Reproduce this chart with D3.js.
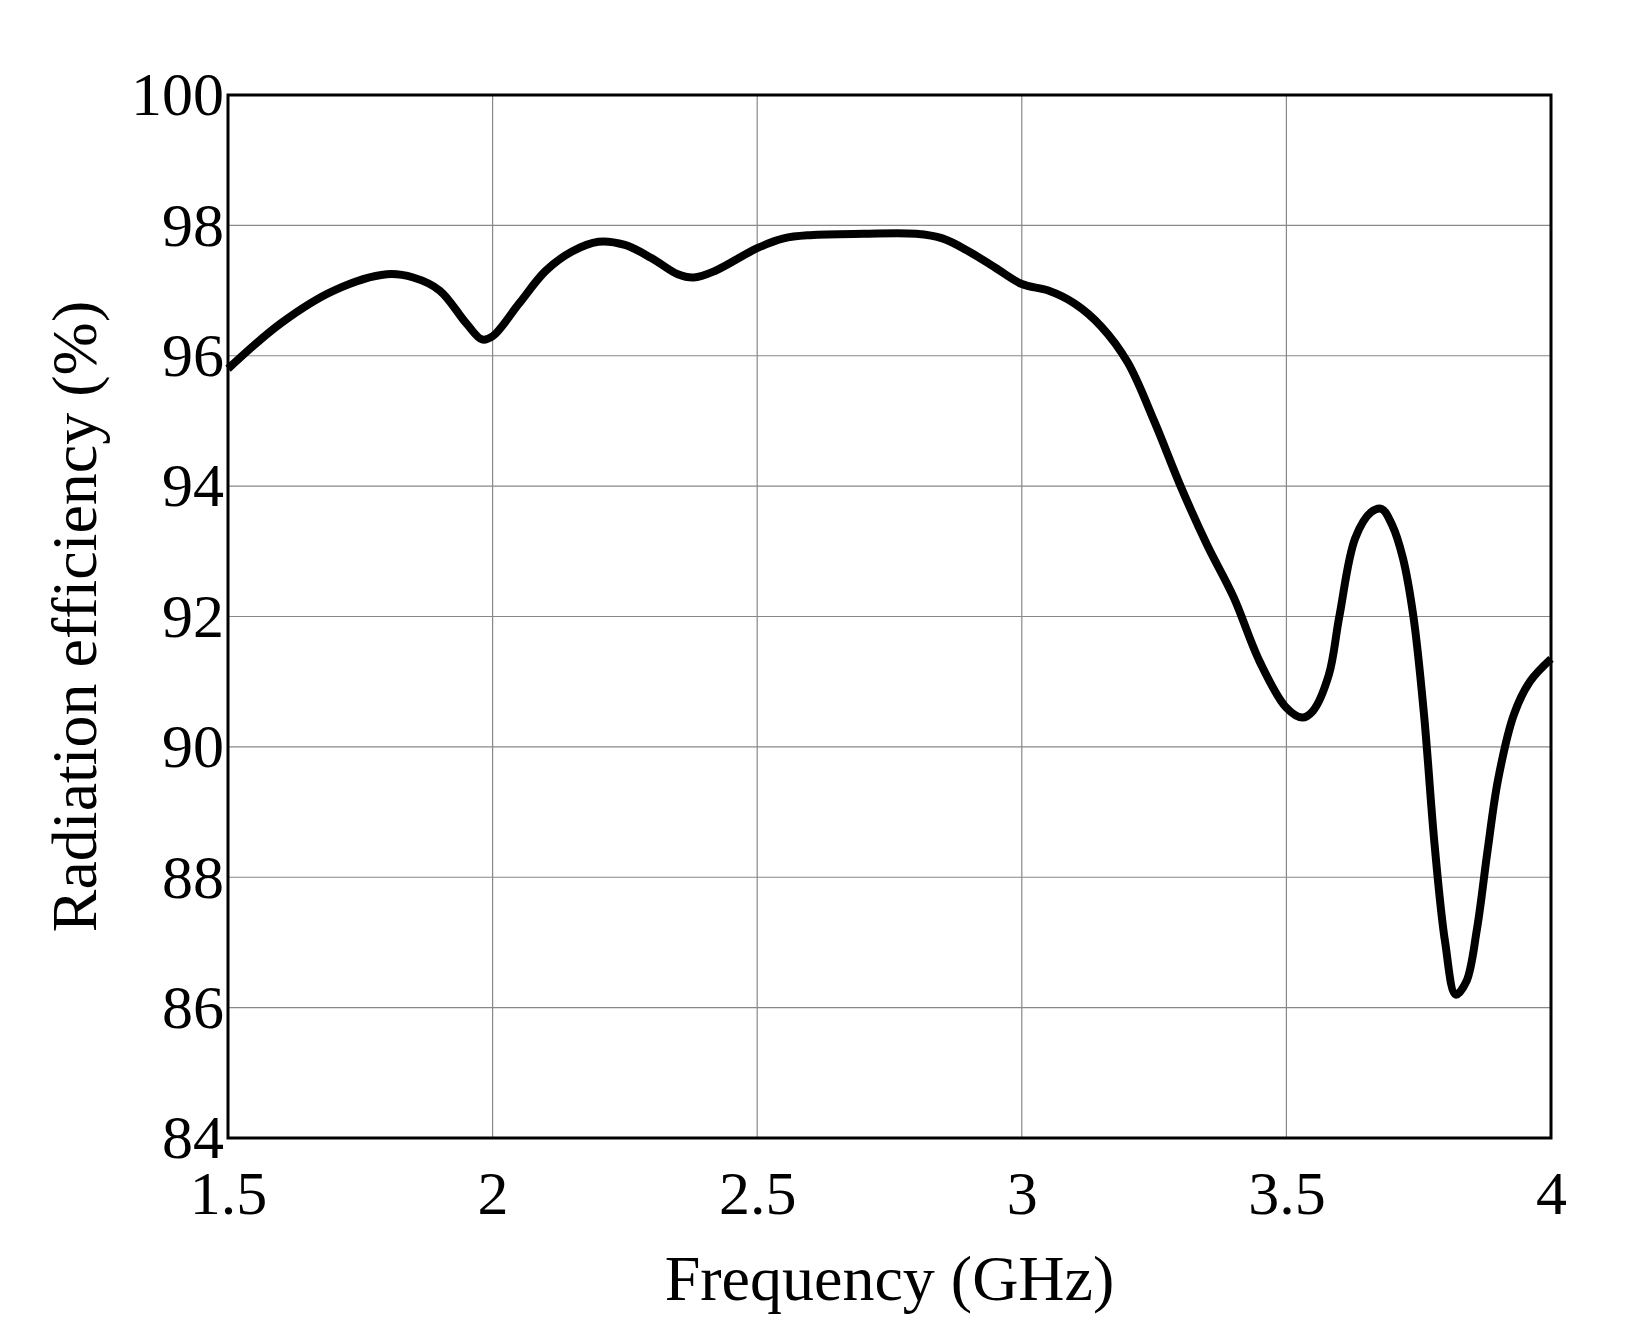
<!DOCTYPE html><html><head><meta charset="utf-8">
<script src="https://cdn.jsdelivr.net/npm/d3@7"></script>
<style>body{margin:0;background:#fff}</style></head><body>
<svg id="c" width="1628" height="1336"></svg>
<script>
const freq=[1.5,1.6,1.7,1.8,1.85,1.9,1.95,1.98,2.0,2.05,2.1,2.15,2.2,2.25,2.3,2.35,2.38,2.42,2.5,2.55,2.6,2.7,2.8,2.85,2.9,2.95,3.0,3.05,3.1,3.15,3.2,3.25,3.3,3.35,3.4,3.45,3.5,3.53,3.55,3.58,3.6,3.63,3.66,3.68,3.7,3.72,3.74,3.76,3.78,3.8,3.82,3.84,3.86,3.88,3.9,3.93,3.96,4.0];
const eff=[95.8,96.5,97.0,97.25,97.2,97.0,96.5,96.25,96.3,96.8,97.3,97.6,97.75,97.7,97.5,97.25,97.2,97.3,97.65,97.8,97.85,97.87,97.87,97.8,97.6,97.35,97.1,97.0,96.8,96.45,95.9,95.0,94.0,93.1,92.3,91.3,90.6,90.45,90.55,91.1,92.0,93.2,93.6,93.65,93.4,92.9,92.0,90.5,88.5,87.0,86.2,86.4,87.2,88.4,89.5,90.5,91.0,91.35];
const xTicks=[1.5,2,2.5,3,3.5,4];
const yTicks=[84,86,88,90,92,94,96,98,100];
const L=228,T=95,R=1551,B=1138;
const svg=d3.select("#c");
const x=d3.scaleLinear().domain([1.5,4]).range([L,R]);
const y=d3.scaleLinear().domain([84,100]).range([B,T]);
const font="'Liberation Serif','Times New Roman',serif";
const g=svg.append("g");
g.selectAll(".vx").data(xTicks.slice(1,-1)).join("line").attr("x1",d=>x(d)).attr("x2",d=>x(d)).attr("y1",T).attr("y2",B).attr("stroke","#888").attr("stroke-width",1.2);
g.selectAll(".hy").data(yTicks.slice(1,-1)).join("line").attr("y1",d=>y(d)).attr("y2",d=>y(d)).attr("x1",L).attr("x2",R).attr("stroke","#888").attr("stroke-width",1.2);
const xa=svg.append("g").attr("transform",`translate(0,${B})`).call(d3.axisBottom(x).tickValues(xTicks).tickFormat(d3.format("")).tickSize(0).tickPadding(32));
const ya=svg.append("g").attr("transform",`translate(${L},0)`).call(d3.axisLeft(y).tickValues(yTicks).tickSize(0).tickPadding(4));
[xa,ya].forEach(a=>{a.select(".domain").remove();a.selectAll("text").attr("font-family",font).attr("font-size",62).attr("fill","#000");});
xa.selectAll("text").attr("dy","0.71em");
svg.append("rect").attr("x",L).attr("y",T).attr("width",R-L).attr("height",B-T).attr("fill","none").attr("stroke","#000").attr("stroke-width",3);
const line=d3.line().x((d,i)=>x(freq[i])).y(d=>y(d)).curve(d3.curveCatmullRom);
svg.append("path").attr("d",line(eff)).attr("fill","none").attr("stroke","#000").attr("stroke-width",8).attr("stroke-linejoin","round");
svg.append("text").attr("x",(L+R)/2).attr("y",1300).attr("text-anchor","middle").attr("font-family",font).attr("font-size",64).text("Frequency (GHz)");
svg.append("text").attr("transform",`translate(96,${(T+B)/2}) rotate(-90)`).attr("text-anchor","middle").attr("font-family",font).attr("font-size",64).text("Radiation efficiency (%)");
</script></body></html>
